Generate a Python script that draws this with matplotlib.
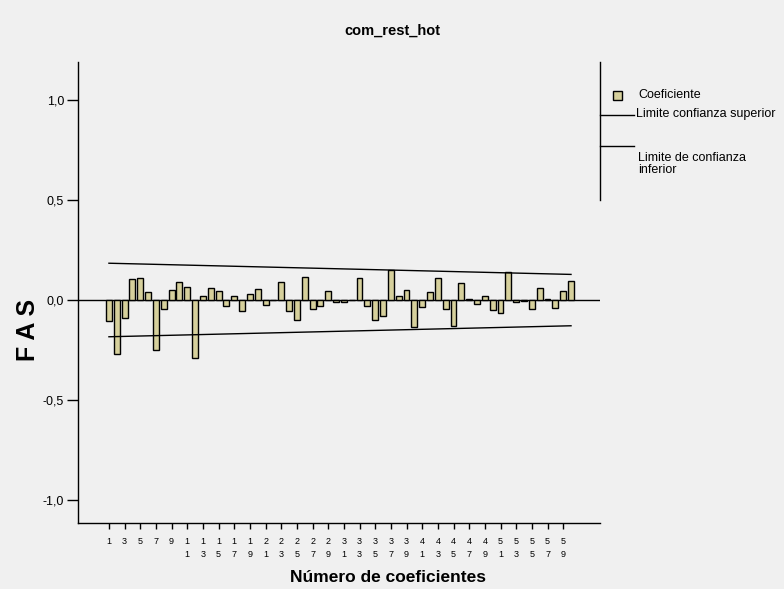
import matplotlib
matplotlib.use("Agg")
import matplotlib.pyplot as plt
from matplotlib.lines import Line2D
from matplotlib.patches import Rectangle

plt.rcParams['font.family'] = ['Liberation Sans', 'DejaVu Sans']

# autocorrelation coefficients, lags 1..60
lags = list(range(1, 61))
acf = [-0.108, -0.27, -0.092, 0.103, 0.108, 0.04, -0.25, -0.045, 0.05, 0.088,
       0.065, -0.29, 0.017, 0.057, 0.043, -0.033, 0.017, -0.055, 0.03, 0.055,
       -0.028, -0.003, 0.087, -0.058, -0.1, 0.113, -0.047, -0.03, 0.045, -0.012,
       -0.01, -0.003, 0.11, -0.03, -0.1, -0.08, 0.15, 0.017, 0.05, -0.137,
       -0.038, 0.037, 0.108, -0.045, -0.13, 0.083, 0.004, -0.02, 0.017, -0.05,
       -0.067, 0.14, -0.012, -0.005, -0.047, 0.058, 0.003, -0.042, 0.045, 0.093]

# confidence limits read at the first and last lag
conf_lags = [1, 60]
conf_upper = [0.183, 0.127]
conf_lower = [-0.185, -0.13]

yticks = [-1.0, -0.5, 0.0, 0.5, 1.0]
ytick_labels = ['-1,0', '-0,5', '0,0', '0,5', '1,0']
xticks = list(range(1, 60, 2))

bar_color = '#d6d09c'
bg = '#f0f0f0'

fig = plt.figure(figsize=(7.84, 5.89), dpi=100)
fig.patch.set_facecolor(bg)
ax = fig.add_axes([78 / 784, 1 - 523 / 589, (600 - 78) / 784, (523 - 62) / 589])
ax.set_facecolor(bg)

ax.bar(lags, acf, width=0.75, color=bar_color, edgecolor='black', linewidth=1.0, zorder=3)
ax.axhline(0, color='black', linewidth=1.0, zorder=2)
ax.plot(conf_lags, conf_upper, color='black', linewidth=1.0, zorder=4)
ax.plot(conf_lags, conf_lower, color='black', linewidth=1.0, zorder=4)

ax.set_xlim(-2.95, 63.7)
ax.set_ylim(-1.117, 1.19)

ax.set_yticks(yticks)
ax.set_yticklabels(ytick_labels, fontsize=9)
ax.set_xticks(xticks)
ax.set_xticklabels(['\n'.join(str(n)) for n in xticks], fontsize=6.5,
                   linespacing=1.6, va='top')
ax.tick_params(axis='y', direction='out', length=8, width=1, pad=2)
ax.tick_params(axis='x', direction='out', length=4, width=1, pad=6)

for side in ['top', 'right']:
    ax.spines[side].set_visible(False)
for side in ['left', 'bottom']:
    ax.spines[side].set_linewidth(1.0)

# vertical line at the left of the legend
fig.add_artist(Line2D([600 / 784, 600 / 784], [1 - 62 / 589, 1 - 200 / 589],
                      color='black', linewidth=1.0))

fig.text(392 / 784, 1 - 31 / 589, 'com_rest_hot', ha='center', va='center',
         fontsize=10.5, fontweight='bold')
fig.text(388 / 784, 1 - 578 / 589, 'Número de coeficientes', ha='center', va='center',
         fontsize=12.5, fontweight='bold')
fig.text(28 / 784, 1 - 330 / 589, 'F A S', ha='center', va='center', rotation=90,
         fontsize=18, fontweight='bold')

# legend
fig.add_artist(Rectangle((613 / 784, 1 - 100 / 589), 9 / 784, 9 / 589,
                         facecolor=bar_color, edgecolor='black', linewidth=1.0))
fig.text(638 / 784, 1 - 95 / 589, 'Coeficiente', va='center', fontsize=9)
fig.add_artist(Line2D([600 / 784, 634 / 784], [1 - 115 / 589, 1 - 115 / 589],
                      color='black', linewidth=1.0))
fig.text(636 / 784, 1 - 114 / 589, 'Limite confianza superior', va='center', fontsize=9)
fig.add_artist(Line2D([600 / 784, 634 / 784], [1 - 146 / 589, 1 - 146 / 589],
                      color='black', linewidth=1.0))
fig.text(638 / 784, 1 - 164 / 589, 'Limite de confianza\ninferior', va='center',
         fontsize=9, linespacing=1.05)

fig.savefig('out.png', dpi=100, facecolor=bg)
